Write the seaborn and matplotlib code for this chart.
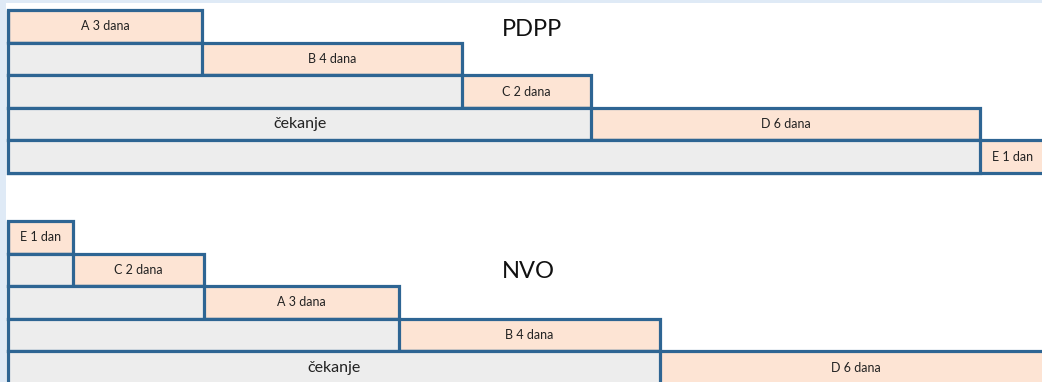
import matplotlib
matplotlib.use("Agg")
import matplotlib.pyplot as plt
from matplotlib.patches import Rectangle
import seaborn as sns
import pandas as pd

# ---- data ----
top_title = "PDPP"
top_tasks = ["A 3 dana", "B 4 dana", "C 2 dana", "D 6 dana", "E 1 dan"]
top_wait = [0, 3, 7, 9, 15]
top_dur = [3, 4, 2, 6, 1]
top_wait_label_row = 3

bottom_title = "NVO"
bottom_tasks = ["E 1 dan", "C 2 dana", "A 3 dana", "B 4 dana", "D 6 dana"]
bottom_wait = [0, 1, 3, 6, 10]
bottom_dur = [1, 2, 3, 4, 6]
bottom_wait_label_row = 4

wait_label = "čekanje"

# ---- style ----
sns.set_theme(style="white")
plt.rcParams['font.family'] = ['Lato', 'DejaVu Sans']

W, H = 1042, 382
fig = plt.figure(figsize=(W / 100, H / 100), dpi=100)
fig.patch.set_facecolor("white")

EDGE = "#2e6593"
PEACH = "#fde4d4"
GREY = "#ededed"
TXT = "#222222"
MARGIN = 0.2  # in row units, keeps edge lines from being clipped


def panel(ax, title, tasks, wait, dur, wait_row, px_per_day, title_xy):
    rows = [str(i) for i in range(len(tasks))]
    df = pd.DataFrame({"row": rows, "wait": wait, "dur": dur})
    df["end"] = df["wait"] + df["dur"]
    sns.barplot(data=df, x="end", y="row", order=rows, orient="h", ax=ax,
                color=PEACH, saturation=1, edgecolor=EDGE, linewidth=2.3,
                width=1.0, errorbar=None)
    sns.barplot(data=df, x="wait", y="row", order=rows, orient="h", ax=ax,
                color=GREY, saturation=1, edgecolor=EDGE, linewidth=2.3,
                width=1.0, errorbar=None)
    for i, (w, d, t) in enumerate(zip(wait, dur, tasks)):
        ax.text(w + d / 2, i, t, ha="center", va="center", fontsize=9,
                color=TXT)
        if i == wait_row:
            ax.text(w / 2, i, wait_label, ha="center", va="center",
                    fontsize=11.5, color=TXT)
    ax.set_xlim(-8 / px_per_day, (W - 8) / px_per_day)
    ax.set_ylim(len(tasks) - 0.5 + MARGIN, -0.5 - MARGIN)
    ax.axis("off")
    fig.text(title_xy[0] / W, 1 - title_xy[1] / H, title, ha="center",
             va="center", fontsize=17, color="#111111")


row_h = 32.6
n = 5
span = (n + 2 * MARGIN) * row_h
ax1 = fig.add_axes([0, 1 - (10 - MARGIN * row_h + span) / H, 1, span / H])
ax2 = fig.add_axes([0, 1 - (221 - MARGIN * row_h + span) / H, 1, span / H])
ax1.patch.set_alpha(0)
ax2.patch.set_alpha(0)

panel(ax1, top_title, top_tasks, top_wait, top_dur, top_wait_label_row,
      64.8, (532, 29))
panel(ax2, bottom_title, bottom_tasks, bottom_wait, bottom_dur,
      bottom_wait_label_row, 65.2, (528, 272))

# light blue frame on the left and top
fig.patches.append(Rectangle((0, 0), 6 / W, 1, transform=fig.transFigure,
                             facecolor="#dfeaf6", edgecolor="none", zorder=10))
fig.patches.append(Rectangle((0, 1 - 3 / H), 1, 3 / H,
                             transform=fig.transFigure,
                             facecolor="#dfeaf6", edgecolor="none", zorder=10))

fig.savefig("out.png", dpi=100, facecolor="white")
